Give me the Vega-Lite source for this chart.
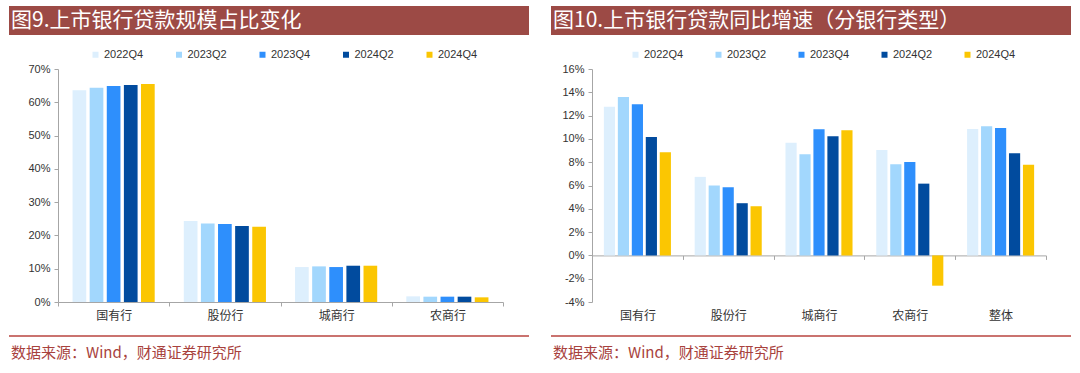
{
  "$schema": "https://vega.github.io/schema/vega-lite/v6.json",
  "padding": {"left": 8, "top": 6, "right": 0, "bottom": 0},
  "background": "white",
  "spacing": 20,
  "config": {"view": {"stroke": null}},
  "datasets": {
    "share": [
      {"bank": "国有行", "period": "2022Q4", "value": 63.6},
      {"bank": "国有行", "period": "2023Q2", "value": 64.4},
      {"bank": "国有行", "period": "2023Q4", "value": 64.9},
      {"bank": "国有行", "period": "2024Q2", "value": 65.2},
      {"bank": "国有行", "period": "2024Q4", "value": 65.5},
      {"bank": "股份行", "period": "2022Q4", "value": 24.3},
      {"bank": "股份行", "period": "2023Q2", "value": 23.6},
      {"bank": "股份行", "period": "2023Q4", "value": 23.4},
      {"bank": "股份行", "period": "2024Q2", "value": 22.8},
      {"bank": "股份行", "period": "2024Q4", "value": 22.6},
      {"bank": "城商行", "period": "2022Q4", "value": 10.5},
      {"bank": "城商行", "period": "2023Q2", "value": 10.7},
      {"bank": "城商行", "period": "2023Q4", "value": 10.5},
      {"bank": "城商行", "period": "2024Q2", "value": 10.9},
      {"bank": "城商行", "period": "2024Q4", "value": 10.9},
      {"bank": "农商行", "period": "2022Q4", "value": 1.7},
      {"bank": "农商行", "period": "2023Q2", "value": 1.6},
      {"bank": "农商行", "period": "2023Q4", "value": 1.6},
      {"bank": "农商行", "period": "2024Q2", "value": 1.6},
      {"bank": "农商行", "period": "2024Q4", "value": 1.4}
    ],
    "growth": [
      {"bank": "国有行", "period": "2022Q4", "value": 12.76},
      {"bank": "国有行", "period": "2023Q2", "value": 13.6},
      {"bank": "国有行", "period": "2023Q4", "value": 12.97},
      {"bank": "国有行", "period": "2024Q2", "value": 10.17},
      {"bank": "国有行", "period": "2024Q4", "value": 8.85},
      {"bank": "股份行", "period": "2022Q4", "value": 6.74},
      {"bank": "股份行", "period": "2023Q2", "value": 6.0},
      {"bank": "股份行", "period": "2023Q4", "value": 5.85},
      {"bank": "股份行", "period": "2024Q2", "value": 4.48},
      {"bank": "股份行", "period": "2024Q4", "value": 4.22},
      {"bank": "城商行", "period": "2022Q4", "value": 9.68},
      {"bank": "城商行", "period": "2023Q2", "value": 8.68},
      {"bank": "城商行", "period": "2023Q4", "value": 10.82},
      {"bank": "城商行", "period": "2024Q2", "value": 10.22},
      {"bank": "城商行", "period": "2024Q4", "value": 10.74},
      {"bank": "农商行", "period": "2022Q4", "value": 9.05},
      {"bank": "农商行", "period": "2023Q2", "value": 7.82},
      {"bank": "农商行", "period": "2023Q4", "value": 8.02},
      {"bank": "农商行", "period": "2024Q2", "value": 6.16},
      {"bank": "农商行", "period": "2024Q4", "value": -2.6},
      {"bank": "整体", "period": "2022Q4", "value": 10.85},
      {"bank": "整体", "period": "2023Q2", "value": 11.08},
      {"bank": "整体", "period": "2023Q4", "value": 10.94},
      {"bank": "整体", "period": "2024Q2", "value": 8.77},
      {"bank": "整体", "period": "2024Q4", "value": 7.79}
    ]
  },
  "resolve": {"scale": {"x": "independent", "y": "independent", "color": "independent", "xOffset": "independent"}, "legend": {"color": "independent"}, "axis": {"x": "independent", "y": "independent"}},
  "hconcat": [
    {
      "spacing": 14,
      "resolve": {"scale": {"x": "independent", "y": "independent", "color": "independent", "xOffset": "independent"}, "legend": {"color": "independent"}, "axis": {"x": "independent", "y": "independent"}},
      "vconcat": [
        {
          "width": 520, "height": 29,
          "view": {"fill": "#9c4a45", "stroke": null},
          "data": {"values": [{"t": "图9.上市银行贷款规模占比变化"}]},
          "mark": {"type": "text", "align": "left", "baseline": "middle", "color": "white", "font": "Noto Sans CJK SC", "fontSize": 21, "dx": 2},
          "encoding": {
            "x": {"datum": 0, "type": "quantitative", "scale": {"domain": [0, 1]}, "axis": null},
            "text": {"field": "t"}
          }
        },
        {
          "width": 520, "height": 233,
          "data": {"name": "share"},
          "mark": {"type": "bar"},
          "encoding": {
            "x": {"field": "bank", "type": "nominal", "sort": ["国有行", "股份行", "城商行", "农商行"],
              "scale": {"paddingInner": 0, "paddingOuter": 0, "range": [49, 494]},
              "axis": {"title": null, "labelAngle": 0, "tickBand": "extent", "labelFont": "Noto Sans CJK SC", "labelFontSize": 12, "labelColor": "#333333", "tickSize": 4, "labelPadding": 4, "domainColor": "#a6a6a6", "tickColor": "#a6a6a6"}},
            "xOffset": {"field": "period", "sort": ["2022Q4", "2023Q2", "2023Q4", "2024Q2", "2024Q4"], "scale": {"paddingInner": 0.2, "paddingOuter": 0.85}},
            "y": {"field": "value", "type": "quantitative", "scale": {"domain": [0, 70], "nice": false},
              "axis": {"title": null, "offset": -49, "values": [0, 10, 20, 30, 40, 50, 60, 70], "labelExpr": "datum.value + '%'", "grid": false, "tickSize": 4, "labelPadding": 4, "labelFont": "Liberation Sans", "labelFontSize": 11, "labelColor": "#333333", "domainColor": "#a6a6a6", "tickColor": "#a6a6a6"}},
            "color": {"field": "period", "type": "nominal",
              "scale": {"domain": ["2022Q4", "2023Q2", "2023Q4", "2024Q2", "2024Q4"], "range": ["#ddeffd", "#a2d7fd", "#2e8ffc", "#014b9e", "#fbc602"]},
              "legend": {"title": null, "orient": "none", "legendX": 81, "legendY": -20, "direction": "horizontal", "symbolType": "square", "symbolSize": 36, "symbolStrokeWidth": 0, "labelFont": "Liberation Sans", "labelFontSize": 11, "labelColor": "#333333", "columnPadding": 29.5, "labelOffset": 3, "padding": 0}}
          }
        },
        {
          "width": 520, "height": 24,
          "data": {"values": [{"t": "数据来源：Wind，财通证券研究所"}]},
          "layer": [
            {"mark": {"type": "rule", "color": "#b8453f", "strokeWidth": 1.5},
             "encoding": {"y": {"datum": 1, "type": "quantitative", "scale": {"domain": [0, 1]}, "axis": null}}},
            {"mark": {"type": "text", "align": "left", "baseline": "middle", "color": "#a8423d", "font": "Noto Sans CJK SC", "fontSize": 15, "dx": 2},
             "encoding": {
               "x": {"datum": 0, "type": "quantitative", "scale": {"domain": [0, 1]}, "axis": null},
               "y": {"datum": 0.3, "type": "quantitative", "axis": null},
               "text": {"field": "t"}}}
          ]
        }
      ]
    },
    {
      "spacing": 14,
      "resolve": {"scale": {"x": "independent", "y": "independent", "color": "independent", "xOffset": "independent"}, "legend": {"color": "independent"}, "axis": {"x": "independent", "y": "independent"}},
      "vconcat": [
        {
          "width": 520, "height": 29,
          "view": {"fill": "#9c4a45", "stroke": null},
          "data": {"values": [{"t": "图10.上市银行贷款同比增速（分银行类型）"}]},
          "mark": {"type": "text", "align": "left", "baseline": "middle", "color": "white", "font": "Noto Sans CJK SC", "fontSize": 21, "dx": 2},
          "encoding": {
            "x": {"datum": 0, "type": "quantitative", "scale": {"domain": [0, 1]}, "axis": null},
            "text": {"field": "t"}
          }
        },
        {
          "width": 520, "height": 233,
          "data": {"name": "growth"},
          "mark": {"type": "bar"},
          "encoding": {
            "x": {"field": "bank", "type": "nominal", "sort": ["国有行", "股份行", "城商行", "农商行", "整体"],
              "scale": {"paddingInner": 0, "paddingOuter": 0, "range": [41, 495]},
              "axis": {"title": null, "labelAngle": 0, "tickBand": "extent", "offset": -46.6, "labelFont": "Noto Sans CJK SC", "labelFontSize": 12, "labelColor": "#333333", "tickSize": 4, "labelPadding": 50.6, "domainColor": "#a6a6a6", "tickColor": "#a6a6a6"}},
            "xOffset": {"field": "period", "sort": ["2022Q4", "2023Q2", "2023Q4", "2024Q2", "2024Q4"], "scale": {"paddingInner": 0.2, "paddingOuter": 0.85}},
            "y": {"field": "value", "type": "quantitative", "scale": {"domain": [-4, 16], "nice": false, "zero": false},
              "axis": {"title": null, "offset": -41, "values": [-4, -2, 0, 2, 4, 6, 8, 10, 12, 14, 16], "labelExpr": "datum.value + '%'", "grid": false, "tickSize": 4, "labelPadding": 4, "labelFont": "Liberation Sans", "labelFontSize": 11, "labelColor": "#333333", "domainColor": "#a6a6a6", "tickColor": "#a6a6a6"}},
            "color": {"field": "period", "type": "nominal",
              "scale": {"domain": ["2022Q4", "2023Q2", "2023Q4", "2024Q2", "2024Q4"], "range": ["#ddeffd", "#a2d7fd", "#2e8ffc", "#014b9e", "#fbc602"]},
              "legend": {"title": null, "orient": "none", "legendX": 79, "legendY": -20, "direction": "horizontal", "symbolType": "square", "symbolSize": 36, "symbolStrokeWidth": 0, "labelFont": "Liberation Sans", "labelFontSize": 11, "labelColor": "#333333", "columnPadding": 29, "labelOffset": 3, "padding": 0}}
          }
        },
        {
          "width": 520, "height": 24,
          "data": {"values": [{"t": "数据来源：Wind，财通证券研究所"}]},
          "layer": [
            {"mark": {"type": "rule", "color": "#b8453f", "strokeWidth": 1.5},
             "encoding": {"y": {"datum": 1, "type": "quantitative", "scale": {"domain": [0, 1]}, "axis": null}}},
            {"mark": {"type": "text", "align": "left", "baseline": "middle", "color": "#a8423d", "font": "Noto Sans CJK SC", "fontSize": 15, "dx": 2},
             "encoding": {
               "x": {"datum": 0, "type": "quantitative", "scale": {"domain": [0, 1]}, "axis": null},
               "y": {"datum": 0.3, "type": "quantitative", "axis": null},
               "text": {"field": "t"}}}
          ]
        }
      ]
    }
  ]
}
